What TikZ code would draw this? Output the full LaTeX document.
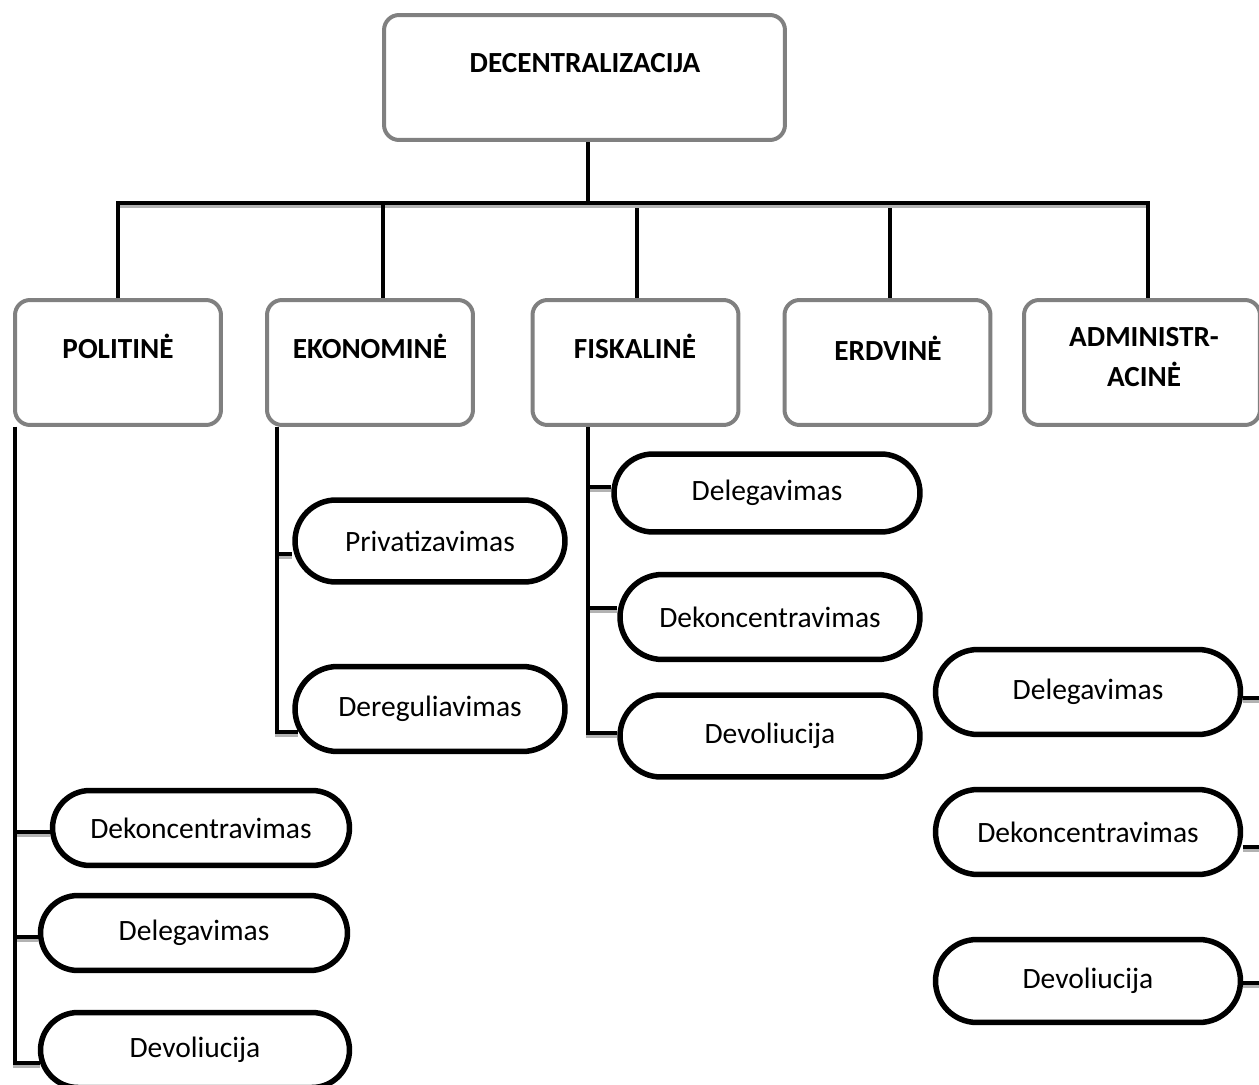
\documentclass[tikz,border=0pt]{standalone}
\usepackage{fontspec}
\setmainfont{Carlito}
\usetikzlibrary{shapes.misc,backgrounds,calc}

\tikzset{
  catbox/.style={rectangle,rounded corners=0.3cm,draw=gray,line width=0.08cm,
                 fill=white,inner sep=0pt,minimum height=2.5cm},
  cattext/.style={font=\fontsize{16.6}{22.7}\selectfont\bfseries,inner sep=0pt,align=center},
  pill/.style={rounded rectangle,draw=black,line width=0.11cm,fill=white,
               inner sep=0pt,font=\fontsize{16.8}{20}\selectfont},
  wire/.style={line width=0.08cm,
               preaction={draw=gray!60,line width=0.08cm,transform canvas={yshift=-0.05cm}}}
}

\begin{document}
\begin{tikzpicture}[x=0.02cm,y=-0.02cm]
\useasboundingbox (0,0) rectangle (1259,1085);
\begin{scope}[every node/.style={catbox}]
    \node[minimum width=8.02cm] (dec) at (584.5,77.5) {};
    \node[minimum width=4.12cm] (pol) at (118,362.5) {};
    \node[minimum width=4.12cm] (eko) at (370,362.5) {};
    \node[minimum width=4.12cm] (fis) at (635.5,362.5) {};
    \node[minimum width=4.12cm] (erd) at (887.5,362.5) {};
    \node[minimum width=4.72cm] (adm) at (1142,362.5) {};
\end{scope}
\begin{scope}[every node/.style={cattext}]
    \node[anchor=base] (dect) at (585,72) {DECENTRALIZACIJA};
    \node[anchor=base] (polt) at (118,358) {POLITINĖ};
    \node[anchor=base] (ekot) at (370,358) {EKONOMINĖ};
    \node[anchor=base] (fist) at (635,358) {FISKALINĖ};
    \node[anchor=base] (erdt) at (888,360) {ERDVINĖ};
    \node (admt) at (1144,357) {ADMINISTR-\\ACINĖ};
\end{scope}
\begin{scope}[every node/.style={pill}]
    % politine
    \node[minimum width=5.94cm,minimum height=1.5cm] (p1) at (201,828) {Dekoncentravimas};
    \node[minimum width=6.14cm,minimum height=1.5cm] (p2) at (194,933) {Delegavimas};
    \node[minimum width=6.18cm,minimum height=1.5cm] (p3) at (195,1050) {Devoliucija};
    % ekonomine
    \node[minimum width=5.4cm,minimum height=1.64cm] (e1) at (430,541) {Privatizavimas};
    \node[minimum width=5.4cm,minimum height=1.7cm] (e2) at (430,709) {Dereguliavimas};
    % fiskaline
    \node[minimum width=6.12cm,minimum height=1.56cm] (f1) at (767,493) {Delegavimas};
    \node[minimum width=6.0cm,minimum height=1.7cm] (f2) at (770,617) {Dekoncentravimas};
    \node[minimum width=6.0cm,minimum height=1.64cm] (f3) at (770,736) {Devoliucija};
    % administracine
    \node[minimum width=6.1cm,minimum height=1.7cm] (a1) at (1088,692) {Delegavimas};
    \node[minimum width=6.1cm,minimum height=1.7cm] (a2) at (1088,832) {Dekoncentravimas};
    \node[minimum width=6.1cm,minimum height=1.66cm] (a3) at (1088,981) {Devoliucija};
\end{scope}
\begin{scope}[on background layer]
    \coordinate (bus) at (588,203);
    \draw[wire] (dec.south -| bus) -- (bus);
    \draw[wire] (bus) -| (pol.north);
    \draw[wire] (bus) -| ($(eko.north)+(13,0)$);
    \draw[wire] (bus) -| ($(fis.north)+(1,0)$);
    \draw[wire] (bus) -| ($(erd.north)+(2,0)$);
    \draw[wire] (bus) -| ($(adm.north)+(6,0)$);
    % politine
    \coordinate (polbar) at ($(pol.south west)+(2,0)$);
    \draw[wire] (polbar) |- ($(p1.west)+(0,4)$);
    \draw[wire] (polbar) |- ($(p2.west)+(0,4)$);
    \draw[wire] (polbar) |- ($(p3.west)+(2,13)$);
    % ekonomine
    \coordinate (ekobar) at ($(eko.south west)+(12,0)$);
    \draw[wire] (ekobar) |- ($(e1.west)+(0,13)$);
    \draw[wire] (ekobar) |- ($(e2.west)+(6,23)$);
    % fiskaline
    \coordinate (fisbar) at ($(fis.south west)+(57,0)$);
    \draw[wire] (fisbar) |- ($(f1.west)+(0,-6)$);
    \draw[wire] (fisbar) |- ($(f2.west)+(0,-9)$);
    \draw[wire] (fisbar) |- ($(f3.west)+(0,-3)$);
    % administracine
    \foreach \n/\y in {a1/698,a2/847,a3/983} {
        \coordinate (\n end) at (1265,\y);
        \draw[wire] (\n end -| \n.east) -- (\n end);
    }
\end{scope}
\end{tikzpicture}
\end{document}
